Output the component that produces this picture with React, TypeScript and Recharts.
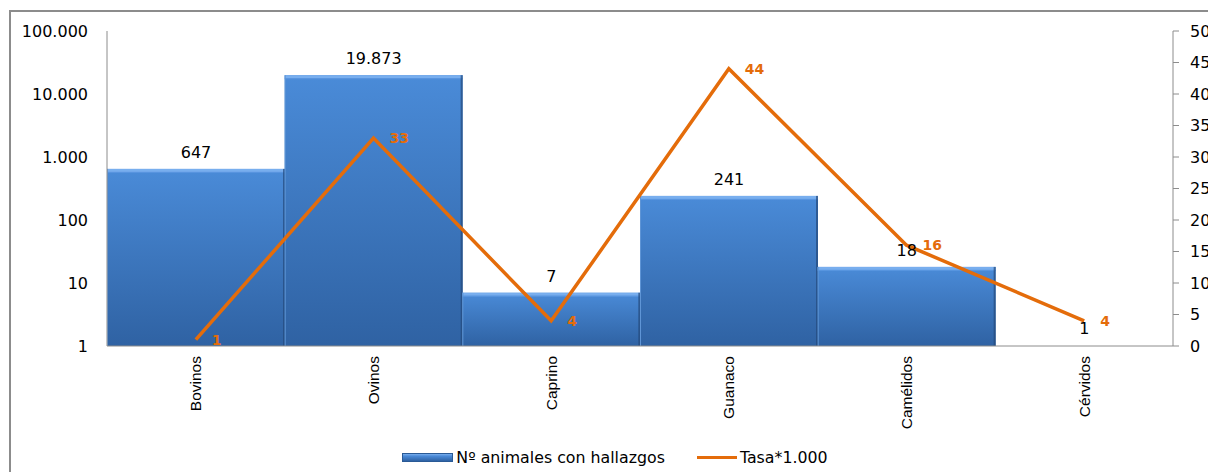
import React from 'react'
import { ComposedChart, Bar, Line, XAxis, YAxis, LabelList, Legend } from 'recharts'

const categories = ['Bovinos', 'Ovinos', 'Caprino', 'Guanaco', 'Camélidos', 'Cérvidos']
const animales = [647, 19873, 7, 241, 18, 1]
const tasa = [1, 33, 4, 44, 16, 4]
const leftTicks = [1, 10, 100, 1000, 10000, 100000]
const rightTicks = [0, 5, 10, 15, 20, 25, 30, 35, 40, 45, 50]

const data = categories.map((name, i) => ({ name, animales: animales[i], tasa: tasa[i] }))

const fmt = (v: number) => String(v).replace(/\B(?=(\d{3})+(?!\d))/g, '.')

const ORANGE = '#E46C0A'
const AXIS = '#8c8c8c'
const FONT = '"DejaVu Sans", Verdana, sans-serif'

// eslint-disable-next-line @typescript-eslint/no-explicit-any
const CategoryTick = ({ x, y, payload }: any) => (
  <g transform={`translate(${x},${y})`}>
    <text
      transform="rotate(-90)"
      x={-10}
      y={0}
      dy="0.35em"
      textAnchor="end"
      fill="#000"
      fontSize={15.5}
      fontFamily='"Liberation Sans", Arial, sans-serif'
    >
      {payload.value}
    </text>
  </g>
)

// bevelled bar like the Excel original
// eslint-disable-next-line @typescript-eslint/no-explicit-any
const BevelBar = ({ x, y, width, height }: any) => {
  if (!height || height < 2) return <g />
  return (
    <g>
      <rect x={x} y={y} width={width} height={height} fill="url(#barFill)" />
      <rect x={x} y={y} width={width} height={3} fill="#78aeee" />
      <rect x={x} y={y + 3} width={width} height={1} fill="#5a96e0" />
      <rect x={x + width - 2} y={y} width={2} height={height} fill="#24497a" opacity={0.7} />
      <rect x={x} y={y} width={1} height={height} fill="#5f95d6" />
    </g>
  )
}

// eslint-disable-next-line @typescript-eslint/no-explicit-any
const TasaLabel = ({ x, y, value }: any) => (
  <text x={x + 16} y={y} dy="0.35em" fill={ORANGE} fontSize={14} fontWeight="bold" fontFamily={FONT}>
    {value}
  </text>
)

const renderLegend = () => (
  <div
    style={{
      height: 22,
      display: 'flex',
      alignItems: 'center',
      justifyContent: 'center',
      fontFamily: FONT,
      fontSize: 15.8,
      color: '#000',
      paddingLeft: 22,
    }}
  >
    <span
      style={{
        display: 'inline-block',
        width: 51,
        height: 9,
        background: 'linear-gradient(#7aaeec 0%, #4a8ad8 30%, #2f62a3 100%)',
        border: '1px solid #2a5a96',
        boxSizing: 'border-box',
        marginRight: 3,
      }}
    />
    <span>Nº animales con hallazgos</span>
    <span style={{ display: 'inline-block', width: 40, height: 3, background: ORANGE, marginLeft: 32, marginRight: 3 }} />
    <span>Tasa*1.000</span>
  </div>
)

export default function App() {
  return (
    <div style={{ position: 'absolute', left: 0, top: 0, width: 1208, height: 472, overflow: 'hidden', background: '#fff' }}>
      <div
        style={{
          position: 'absolute',
          left: 9,
          top: 10,
          width: 1240,
          height: 500,
          border: `2px solid ${AXIS}`,
          boxSizing: 'border-box',
        }}
      />
      <div style={{ position: 'absolute', left: 0, top: 0 }}>
        <ComposedChart
          width={1208}
          height={472}
          data={data}
          margin={{ top: 31, right: 0, bottom: 4, left: 0 }}
          barCategoryGap={0}
        >
          <defs>
            <linearGradient id="barFill" x1="0" y1="0" x2="0" y2="1">
              <stop offset="0%" stopColor="#4a8bd8" />
              <stop offset="100%" stopColor="#2f62a3" />
            </linearGradient>
          </defs>
          <XAxis
            dataKey="name"
            height={100}
            interval={0}
            tickLine={false}
            tickSize={0}
            tickMargin={0}
            axisLine={{ stroke: AXIS }}
            tick={<CategoryTick />}
          />
          <YAxis
            yAxisId="left"
            scale="log"
            type="number"
            domain={[1, 100000]}
            ticks={leftTicks}
            allowDataOverflow
            width={107}
            tickLine={false}
            tickMargin={13}
            axisLine={{ stroke: AXIS }}
            tickFormatter={fmt}
            tick={{ fill: '#000', fontSize: 16, fontFamily: FONT }}
          />
          <YAxis
            yAxisId="right"
            orientation="right"
            type="number"
            domain={[0, 50]}
            ticks={rightTicks}
            width={35}
            tickLine={{ stroke: AXIS }}
            tickSize={6}
            tickMargin={11}
            axisLine={{ stroke: AXIS }}
            tick={{ fill: '#000', fontSize: 16, fontFamily: FONT, textAnchor: 'start' }}
          />
          <Legend verticalAlign="bottom" content={renderLegend} />
          <Bar
            yAxisId="left"
            dataKey="animales"
            name="Nº animales con hallazgos"
            shape={<BevelBar />}
            minPointSize={1}
            isAnimationActive={false}
          >
            <LabelList
              dataKey="animales"
              position="top"
              offset={11}
              formatter={(v: number) => fmt(v)}
              style={{ fill: '#000', fontSize: 16, fontFamily: FONT }}
            />
          </Bar>
          <Line
            yAxisId="right"
            dataKey="tasa"
            name="Tasa*1.000"
            type="linear"
            stroke={ORANGE}
            strokeWidth={3.5}
            dot={false}
            activeDot={false}
            isAnimationActive={false}
          >
            <LabelList dataKey="tasa" content={<TasaLabel />} />
          </Line>
        </ComposedChart>
      </div>
    </div>
  )
}
